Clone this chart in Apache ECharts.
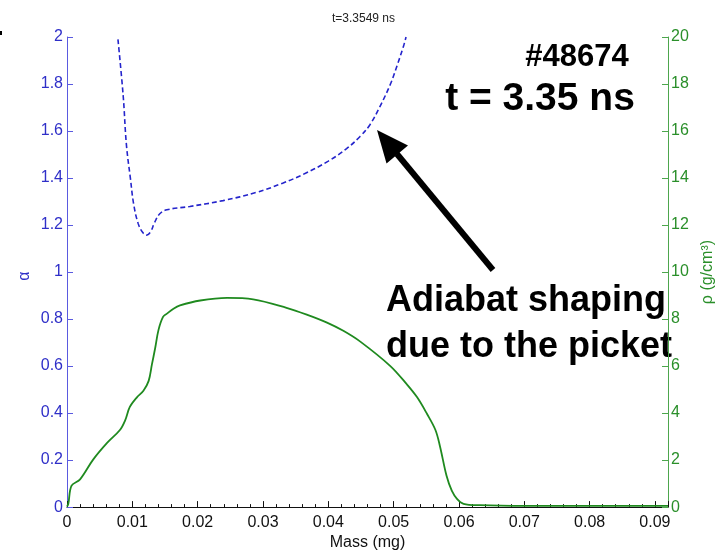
<!DOCTYPE html>
<html>
<head>
<meta charset="utf-8">
<script src="https://cdn.jsdelivr.net/npm/echarts@6/dist/echarts.min.js"></script>
<style>
html,body{margin:0;padding:0;background:#fff;}
#chart{width:727px;height:556px;}
</style>
</head>
<body>
<div id="chart"></div>
<script>
// ---- data ----
var titleText = 't=3.3549 ns';
var xTickLabels = ['0','0.01','0.02','0.03','0.04','0.05','0.06','0.07','0.08','0.09'];
var alphaAxisName = 'α';
// alpha (left axis), blue dashed
var alphaMass = [0.0078,0.0086,0.0091,0.0097,0.0102,0.0109,0.0116,0.0122,0.0128,0.0134,0.0142,0.0153,0.0188,0.0239,0.0290,0.0330,0.0365,0.0400,0.0428,0.0449,0.0464,0.0479,0.0495,0.0505,0.0515,0.0519];
var alphaVals = [1.99,1.75,1.54,1.40,1.29,1.206,1.168,1.157,1.172,1.21,1.248,1.265,1.279,1.304,1.339,1.378,1.420,1.472,1.525,1.578,1.628,1.704,1.799,1.876,1.960,2.0];
// density rho (right axis), green solid
var rhoMass = [0,0.0002,0.0007,0.002,0.004,0.0061,0.0081,0.0089,0.0096,0.0107,0.0117,0.0125,0.0130,0.0135,0.0140,0.0147,0.0153,0.0163,0.0173,0.0204,0.0245,0.0285,0.0336,0.0367,0.0398,0.0423,0.0449,0.0495,0.0520,0.0536,0.0551,0.0564,0.0571,0.0581,0.0589,0.0597,0.0607,0.0632,0.070,0.080,0.092];
var rhoVals = [0.02,0.14,0.91,1.18,2.02,2.72,3.28,3.69,4.25,4.67,4.95,5.37,6.07,6.77,7.53,8.09,8.23,8.44,8.58,8.79,8.90,8.84,8.48,8.19,7.85,7.50,7.04,6.0,5.23,4.67,3.97,3.28,2.58,1.33,0.70,0.35,0.14,0.08,0.05,0.05,0.05];
var shotLabel = '#48674';
var timeLabel = 't = 3.35 ns';
var noteLine1 = 'Adiabat shaping';
var noteLine2 = 'due to the picket';

var alphaData = alphaMass.map(function(m,i){return [m, alphaVals[i]];});
var rhoData = rhoMass.map(function(m,i){return [m, rhoVals[i]];});

var BLUE = '#2f2fc8', BLUE_LINE = '#5a5ae0', GREEN = '#2a8f2a', GREEN_LINE = '#4da64d';
var FONT = '"Liberation Sans", Arial, Helvetica, sans-serif';

var chart = echarts.init(document.getElementById('chart'), null, {renderer:'canvas'});
chart.setOption({
  animation:false,
  backgroundColor:'#fff',
  title:{text:titleText, left:'center', top:8, textStyle:{fontSize:12, fontWeight:'normal', color:'#222', fontFamily:FONT}},
  grid:{left:67, right:59, top:37, bottom:41, containLabel:false},
  xAxis:{
    type:'value', min:0, max:0.092, interval:0.01,
    name:'Mass (mg)', nameLocation:'middle', nameGap:26,
    nameTextStyle:{fontSize:16, color:'#111', fontFamily:FONT},
    axisLine:{show:true, lineStyle:{color:'#111', width:1}},
    axisTick:{show:true, inside:true, length:6, lineStyle:{color:'#111'}},
    minorTick:{show:true, splitNumber:5, length:3, lineStyle:{color:'#111'}},
    axisLabel:{fontSize:16, color:'#111', fontFamily:FONT, margin:7,
      formatter:function(v){var k=Math.round(v*100); return Math.abs(v*100-k)<1e-6 && k<xTickLabels.length ? xTickLabels[k] : '';}},
    splitLine:{show:false}
  },
  yAxis:[{
    type:'value', min:0, max:2, interval:0.2, position:'left',
    axisLine:{show:true, lineStyle:{color:BLUE_LINE, width:1}},
    axisTick:{show:true, inside:true, length:6, lineStyle:{color:BLUE_LINE}},
    axisLabel:{fontSize:16, color:BLUE, fontFamily:FONT, margin:4,
      formatter:function(v){return String(Math.round(v*10)/10);}},
    splitLine:{show:false}
  },{
    type:'value', min:0, max:20, interval:2, position:'right',
    name:'ρ (g/cm³)', nameLocation:'middle', nameGap:32,
    nameTextStyle:{fontSize:16, color:GREEN, fontFamily:FONT},
    axisLine:{show:true, lineStyle:{color:GREEN_LINE, width:1}},
    axisTick:{show:true, inside:true, length:6, lineStyle:{color:GREEN_LINE}},
    axisLabel:{fontSize:16, color:GREEN, fontFamily:FONT, margin:3},
    splitLine:{show:false}
  }],
  series:[{
    type:'line', yAxisIndex:0, data:alphaData, showSymbol:false, smooth:0.4,
    lineStyle:{color:'#2424cc', width:1.6, type:[5,3]}, z:3
  },{
    type:'line', yAxisIndex:1, data:rhoData, showSymbol:false, smooth:0.35,
    lineStyle:{color:'#1f8a1f', width:1.8}, z:3
  }],
  graphic:[
    {type:'text', x:25, y:276, rotation:Math.PI/2, style:{text:alphaAxisName, font:'16px '+FONT, fill:BLUE, textAlign:'center', textVerticalAlign:'middle'}},
    {type:'rect', shape:{x:0, y:31, width:2, height:4}, style:{fill:'#000'}},
    {type:'text', x:577, y:57, style:{text:shotLabel, font:'bold 31px '+FONT, fill:'#000', textAlign:'center', textVerticalAlign:'middle'}},
    {type:'text', x:540, y:99, style:{text:timeLabel, font:'bold 39px '+FONT, fill:'#000', textAlign:'center', textVerticalAlign:'middle'}},
    {type:'text', x:526, y:301, style:{text:noteLine1, font:'bold 36px '+FONT, fill:'#000', textAlign:'center', textVerticalAlign:'middle'}},
    {type:'text', x:529, y:347, style:{text:noteLine2, font:'bold 36px '+FONT, fill:'#000', textAlign:'center', textVerticalAlign:'middle'}},
    {type:'line', shape:{x1:493, y1:270, x2:397, y2:154}, style:{stroke:'#000', lineWidth:6}},
    {type:'polygon', shape:{points:[[377,130],[408,145.5],[386.5,163.5]]}, style:{fill:'#000'}}
  ]
});
</script>
</body>
</html>
